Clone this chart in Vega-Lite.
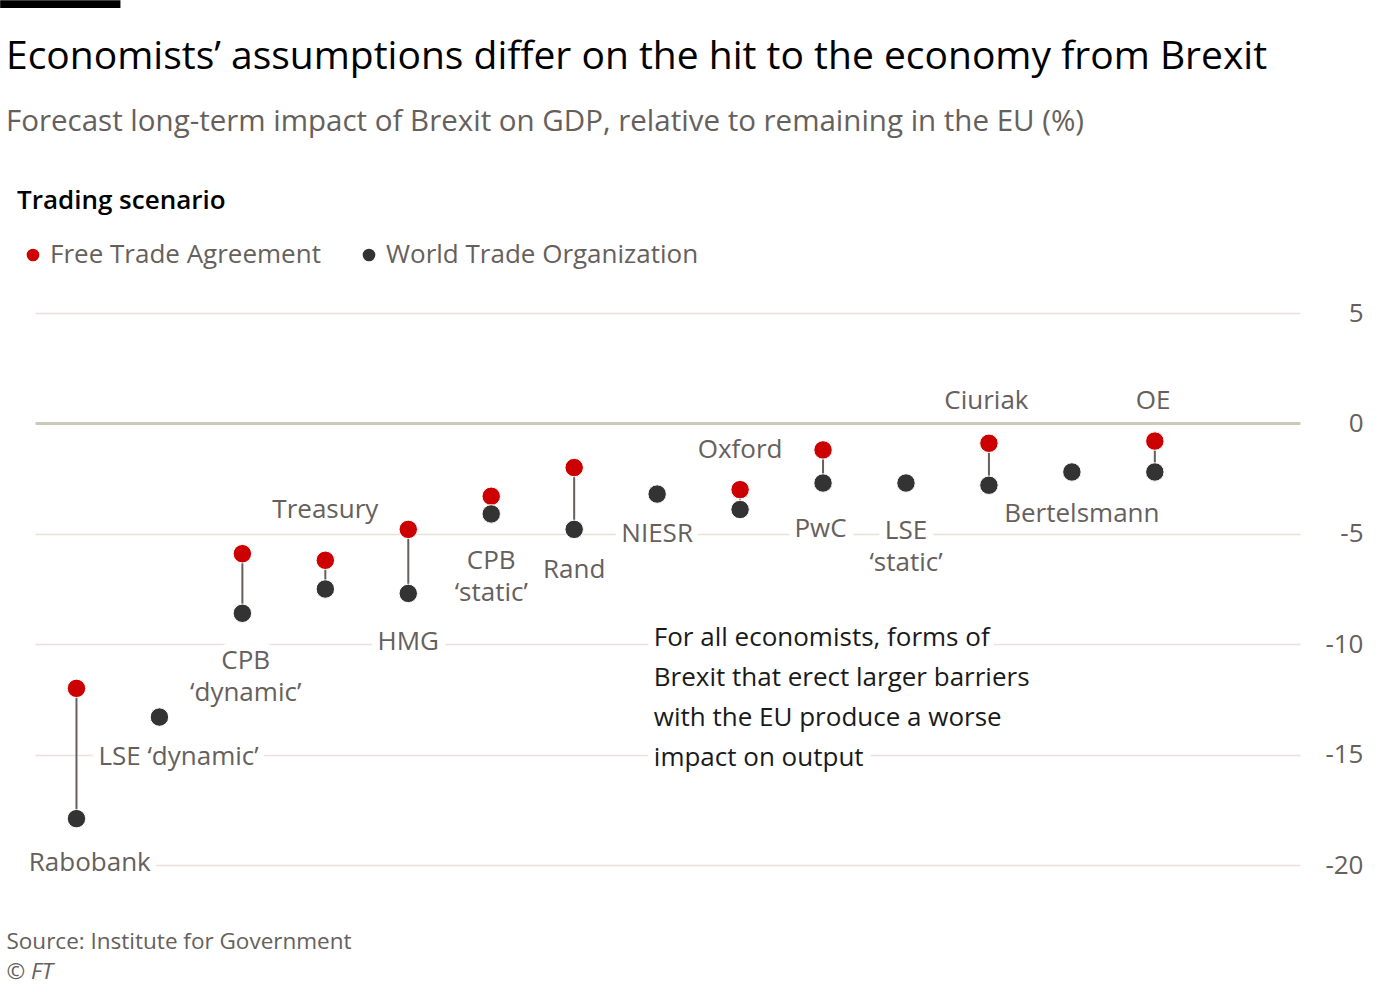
{
  "$schema": "https://vega.github.io/schema/vega-lite/v6.json",
  "width": 1265,
  "height": 552,
  "autosize": {"type": "none"},
  "padding": {"left": 35, "top": 313, "right": 100, "bottom": 127},
  "background": "white",
  "title": {
    "text": "Economists’ assumptions differ on the hit to the economy from Brexit",
    "subtitle": "Forecast long-term impact of Brexit on GDP, relative to remaining in the EU (%)",
    "anchor": "start",
    "frame": "group",
    "dx": -29,
    "offset": -136,
    "font": "Open Sans",
    "fontSize": 39,
    "fontWeight": "normal",
    "color": "#000000",
    "subtitleFont": "Open Sans",
    "subtitleFontSize": 29.5,
    "subtitleColor": "#66605c",
    "subtitlePadding": 31
  },
  "data": {
    "values": [
      {"name": "Rabobank", "i": 0, "fta": -12.0, "wto": -17.9, "label": "Rabobank", "lx": 0.16, "ly": -19.9},
      {"name": "LSE dynamic", "i": 1, "fta": null, "wto": -13.3, "label": "LSE ‘dynamic’", "lx": 1.23, "ly": -15.1},
      {"name": "CPB dynamic", "i": 2, "fta": -5.9, "wto": -8.6, "label": ["CPB", "‘dynamic’"], "lx": 2.04, "ly": -10.75},
      {"name": "Treasury", "i": 3, "fta": -6.2, "wto": -7.5, "label": "Treasury", "lx": 3, "ly": -3.9},
      {"name": "HMG", "i": 4, "fta": -4.8, "wto": -7.7, "label": "HMG", "lx": 4, "ly": -9.9},
      {"name": "CPB static", "i": 5, "fta": -3.3, "wto": -4.1, "label": ["CPB", "‘static’"], "lx": 5, "ly": -6.23},
      {"name": "Rand", "i": 6, "fta": -2.0, "wto": -4.8, "label": "Rand", "lx": 6, "ly": -6.65},
      {"name": "NIESR", "i": 7, "fta": null, "wto": -3.2, "label": "NIESR", "lx": 7, "ly": -5.0},
      {"name": "Oxford", "i": 8, "fta": -3.0, "wto": -3.9, "label": "Oxford", "lx": 8, "ly": -1.2},
      {"name": "PwC", "i": 9, "fta": -1.2, "wto": -2.7, "label": "PwC", "lx": 8.97, "ly": -4.8},
      {"name": "LSE static", "i": 10, "fta": null, "wto": -2.7, "label": ["LSE", "‘static’"], "lx": 10, "ly": -4.87},
      {"name": "Ciuriak", "i": 11, "fta": -0.9, "wto": -2.8, "label": "Ciuriak", "lx": 10.97, "ly": 1.0},
      {"name": "Bertelsmann", "i": 12, "fta": null, "wto": -2.2, "label": "Bertelsmann", "lx": 12.12, "ly": -4.1},
      {"name": "OE", "i": 13, "fta": -0.8, "wto": -2.2, "label": "OE", "lx": 12.98, "ly": 1.0}
    ]
  },
  "layer": [
    {
      "data": {"values": [{}]},
      "mark": {"type": "rect", "color": "#000000", "clip": false},
      "encoding": {
        "x": {"datum": -0.92, "type": "quantitative", "scale": {"domain": [-0.5, 14.75], "nice": false, "zero": false}, "title": "Source: Institute for Government"},
        "x2": {"datum": 0.53},
        "y": {"datum": 19.17, "type": "quantitative", "scale": {"domain": [-20, 5], "nice": false, "zero": false}, "title": null, "axis": {"values": [5, 0, -5, -10, -15, -20]}},
        "y2": {"datum": 18.81}
      }
    },
    {
      "mark": {"type": "text", "font": "Open Sans", "fontSize": 26, "align": "center", "baseline": "middle", "lineHeight": 32, "stroke": "white", "strokeWidth": 16, "strokeJoin": "round", "fill": "white"},
      "encoding": {
        "x": {"field": "lx", "type": "quantitative", "title": "Source: Institute for Government"},
        "y": {"field": "ly", "type": "quantitative", "title": null},
        "text": {"field": "label"}
      }
    },
    {
      "data": {"values": [{}]},
      "mark": {"type": "text", "font": "Open Sans", "fontSize": 26, "align": "left", "baseline": "middle", "lineHeight": 40, "stroke": "white", "strokeWidth": 16, "strokeJoin": "round", "fill": "white"},
      "encoding": {
        "x": {"datum": 6.96, "type": "quantitative", "title": "Source: Institute for Government"},
        "y": {"datum": -9.72, "type": "quantitative", "title": null},
        "text": {"value": ["For all economists, forms of", "Brexit that erect larger barriers", "with the EU produce a worse", "impact on output"]}
      }
    },
    {
      "transform": [{"filter": "datum.fta != null"}],
      "mark": {"type": "rule", "color": "#66605c", "strokeWidth": 2},
      "encoding": {
        "x": {"field": "i", "type": "quantitative", "title": "Source: Institute for Government"},
        "y": {"field": "fta", "type": "quantitative", "title": null},
        "y2": {"field": "wto"}
      }
    },
    {
      "transform": [
        {"fold": ["fta", "wto"], "as": ["scenario", "value"]},
        {"filter": "datum.value != null"}
      ],
      "mark": {"type": "point", "filled": true, "opacity": 1, "size": 340, "stroke": "white", "strokeWidth": 1},
      "encoding": {
        "x": {"field": "i", "type": "quantitative", "title": "Source: Institute for Government"},
        "y": {"field": "value", "type": "quantitative", "title": null},
        "color": {
          "field": "scenario",
          "type": "nominal",
          "scale": {"domain": ["fta", "wto"], "range": ["#cc0000", "#333333"]},
          "legend": {
            "title": "Trading scenario",
            "orient": "none",
            "direction": "horizontal",
            "legendX": -18,
            "legendY": -125,
            "labelExpr": "datum.label == 'fta' ? 'Free Trade Agreement' : 'World Trade Organization'",
            "symbolType": "circle",
            "symbolSize": 160,
            "symbolStrokeWidth": 0,
            "symbolOffset": 3,
            "labelOffset": 4,
            "columnPadding": 32,
            "titlePadding": 28,
            "titleFont": "Open Sans",
            "titleFontSize": 26,
            "titleFontWeight": 600,
            "titleColor": "#000000",
            "titleLimit": 600,
            "labelFont": "Open Sans",
            "labelFontSize": 26,
            "labelColor": "#66605c",
            "labelLimit": 600
          }
        }
      }
    },
    {
      "mark": {"type": "text", "font": "Open Sans", "fontSize": 26, "align": "center", "baseline": "middle", "lineHeight": 32, "fill": "#66605c"},
      "encoding": {
        "x": {"field": "lx", "type": "quantitative", "title": "Source: Institute for Government"},
        "y": {"field": "ly", "type": "quantitative", "title": null},
        "text": {"field": "label"}
      }
    },
    {
      "data": {"values": [{}]},
      "mark": {"type": "text", "font": "Open Sans", "fontSize": 26, "align": "left", "baseline": "middle", "lineHeight": 40, "fill": "#1a1a1a"},
      "encoding": {
        "x": {"datum": 6.96, "type": "quantitative", "title": "Source: Institute for Government"},
        "y": {"datum": -9.72, "type": "quantitative", "title": null},
        "text": {"value": ["For all economists, forms of", "Brexit that erect larger barriers", "with the EU produce a worse", "impact on output"]}
      }
    },
    {
      "data": {"values": [{}]},
      "mark": {"type": "text", "font": "Open Sans", "fontSize": 22.5, "fontStyle": "italic", "align": "left", "baseline": "middle", "fill": "#66605c", "clip": false},
      "encoding": {
        "x": {"datum": -0.843, "type": "quantitative", "title": "Source: Institute for Government"},
        "y": {"datum": -24.84, "type": "quantitative", "title": null},
        "text": {"value": "© FT"}
      }
    }
  ],
  "config": {
    "view": {"stroke": null},
    "axisX": {
      "domain": false,
      "ticks": false,
      "labels": false,
      "grid": false,
      "titleAnchor": "start",
      "titleAlign": "left",
      "titleX": -29,
      "titleY": 83,
      "titleBaseline": "alphabetic",
      "titleFont": "Open Sans",
      "titleFontSize": 22.5,
      "titleFontWeight": "normal",
      "titleColor": "#66605c"
    },
    "axisY": {
      "orient": "right",
      "domain": false,
      "ticks": false,
      "labelAlign": "right",
      "labelPadding": 63,
      "labelFont": "Open Sans",
      "labelFontSize": 26,
      "labelColor": "#66605c",
      "labelExpr": "'' + datum.value",
      "grid": true,
      "gridColor": {"condition": [{"test": "datum.value === 0", "value": "#cccbb9"}, {"test": "datum.value === -5", "value": "#e5e3d2"}], "value": "#eedfdb"},
      "gridWidth": {"condition": {"test": "datum.value === 0", "value": 3}, "value": 1.5}
    }
  }
}
